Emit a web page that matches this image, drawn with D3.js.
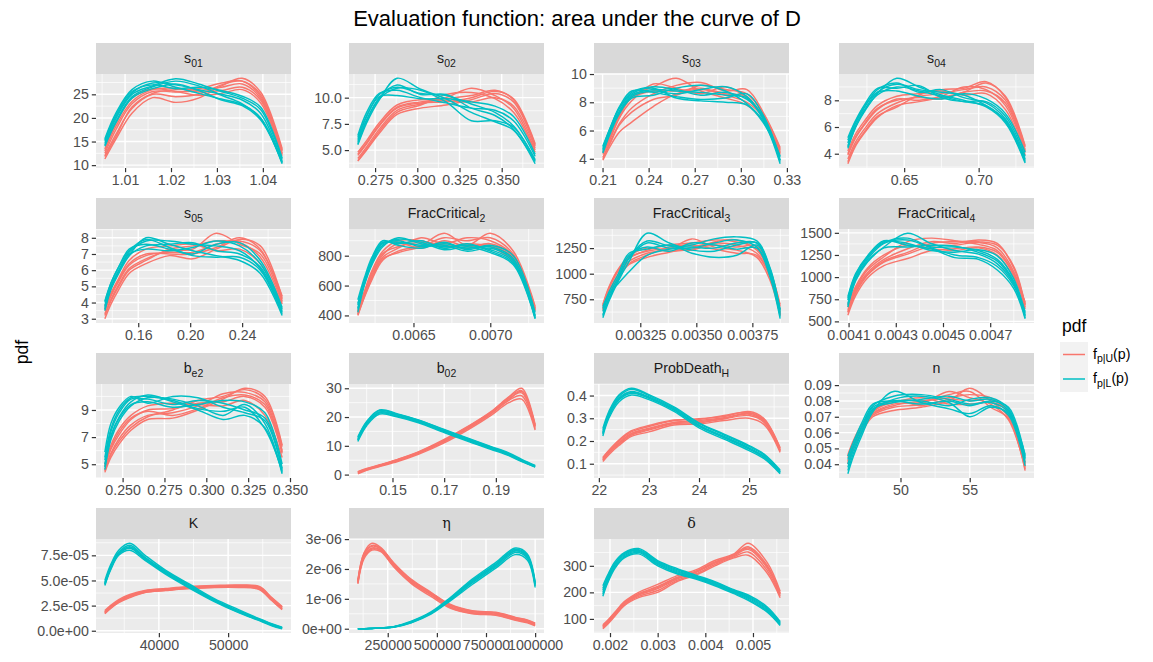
<!DOCTYPE html>
<html>
<head>
<meta charset="utf-8">
<script src="https://cdn.jsdelivr.net/npm/d3@7"></script>
<style>
body { margin: 0; background: #fff; }
</style>
</head>
<body>
<div id="chart"></div>
<script>
// ---- data: one x grid per parameter, curves of f_p|U (U) and f_p|L (L) ----
var s01_x = [1.0056, 1.008, 1.0115, 1.016, 1.021, 1.026, 1.031, 1.0355, 1.0395, 1.0442];
var s01_U = [
  [11.3, 15.5, 21.0, 24.3, 23.3, 24.2, 26.8, 28.4, 25.5, 13.5],
  [12.0, 16.5, 22.0, 25.0, 24.5, 25.0, 27.0, 27.8, 25.0, 13.0],
  [12.5, 17.5, 23.0, 25.6, 25.5, 25.8, 26.5, 27.2, 24.2, 12.6],
  [13.0, 18.2, 23.5, 26.0, 26.3, 25.5, 25.8, 26.5, 23.8, 12.3],
  [13.4, 18.8, 24.2, 26.2, 25.6, 24.8, 25.2, 26.0, 23.2, 12.0],
  [11.8, 16.0, 22.3, 25.2, 26.0, 26.2, 27.4, 27.8, 24.6, 13.2]];
var s01_L = [
  [14.2, 19.2, 24.5, 26.6, 27.8, 26.8, 24.8, 23.0, 20.0, 10.3],
  [15.0, 20.2, 25.3, 27.4, 27.0, 26.0, 25.0, 23.8, 21.0, 10.8],
  [15.6, 21.0, 26.0, 27.8, 26.5, 25.2, 24.0, 22.8, 20.0, 10.5],
  [14.6, 19.8, 25.0, 26.8, 28.3, 27.2, 25.6, 24.2, 21.8, 11.2],
  [15.3, 20.6, 25.6, 27.0, 26.2, 26.5, 25.8, 24.6, 22.3, 11.5],
  [14.0, 19.0, 24.2, 26.2, 27.2, 25.8, 23.8, 22.6, 19.6, 10.6]];
var s01_xt = [1.01, 1.02, 1.03, 1.04];
var s01_yt = [10, 15, 20, 25];

var s02_x = [0.2648, 0.270, 0.2775, 0.288, 0.302, 0.317, 0.332, 0.346, 0.357, 0.3698];
var s02_U = [
  [3.95, 5.0, 6.6, 8.4, 9.0, 9.3, 9.8, 10.4, 9.6, 5.4],
  [4.2, 5.3, 7.0, 8.8, 9.4, 10.0, 10.9, 10.2, 9.0, 5.0],
  [4.5, 5.6, 7.3, 9.0, 9.5, 9.6, 10.0, 10.6, 9.9, 5.6],
  [4.8, 5.9, 7.6, 9.3, 9.8, 9.7, 9.6, 10.0, 9.2, 5.2],
  [4.0, 5.1, 6.8, 8.6, 9.3, 10.3, 10.5, 9.9, 8.6, 4.8],
  [4.6, 5.7, 7.4, 9.1, 9.6, 9.9, 10.2, 10.7, 9.8, 5.5]];
var s02_L = [
  [5.5, 7.6, 9.8, 11.85, 10.8, 9.9, 8.6, 7.7, 6.9, 3.7],
  [6.0, 8.2, 10.3, 11.0, 10.4, 10.2, 9.4, 8.6, 7.3, 4.1],
  [6.4, 8.6, 10.4, 10.7, 10.0, 9.5, 9.0, 8.8, 7.8, 4.4],
  [5.8, 7.9, 9.9, 10.9, 10.7, 9.6, 7.8, 7.8, 7.2, 4.0],
  [6.2, 8.3, 10.1, 10.2, 9.9, 9.9, 9.6, 9.2, 8.2, 4.6],
  [5.6, 7.8, 10.0, 11.2, 10.3, 10.3, 9.0, 8.3, 7.0, 3.9]];
var s02_xt = [0.275, 0.300, 0.325, 0.350];
var s02_yt = [5.0, 7.5, 10.0];

var s03_x = [0.2102, 0.215, 0.221, 0.229, 0.243, 0.258, 0.274, 0.290, 0.304, 0.315, 0.3256];
var s03_U = [
  [3.9, 4.9, 5.9, 6.6, 7.7, 8.6, 8.9, 8.5, 8.0, 6.9, 4.6],
  [4.1, 5.2, 6.5, 7.6, 8.6, 9.2, 9.4, 8.8, 8.9, 7.2, 4.8],
  [4.3, 5.4, 6.9, 8.1, 9.3, 9.0, 8.6, 9.1, 8.3, 7.0, 4.5],
  [4.5, 5.6, 7.1, 8.4, 9.1, 9.7, 8.8, 8.3, 7.8, 6.6, 4.3],
  [4.0, 5.1, 6.4, 7.3, 8.2, 8.5, 9.2, 8.9, 8.6, 7.1, 4.7],
  [4.4, 5.5, 7.0, 8.3, 8.8, 8.8, 9.0, 8.6, 8.4, 6.8, 4.4]];
var s03_L = [
  [4.5, 5.9, 7.3, 8.4, 8.8, 8.6, 8.9, 9.1, 8.4, 6.8, 3.8],
  [4.7, 6.1, 7.6, 8.7, 9.1, 8.9, 8.5, 8.7, 8.2, 6.9, 3.9],
  [4.9, 6.2, 7.7, 8.8, 8.7, 8.4, 8.2, 8.3, 8.6, 7.0, 4.1],
  [4.4, 5.8, 7.2, 8.3, 8.5, 9.0, 9.2, 8.8, 7.9, 6.6, 3.65],
  [4.8, 6.2, 7.6, 8.6, 9.0, 8.3, 8.1, 8.0, 7.8, 6.5, 4.2],
  [4.6, 6.0, 7.4, 8.5, 8.9, 8.8, 8.7, 8.5, 8.3, 6.7, 3.9]];
var s03_xt = [0.21, 0.24, 0.27, 0.30, 0.33];
var s03_yt = [4, 6, 8, 10];

var s04_x = [0.6122, 0.617, 0.623, 0.632, 0.645, 0.660, 0.675, 0.690, 0.705, 0.718, 0.7312];
var s04_U = [
  [3.25, 4.5, 5.5, 6.7, 7.6, 7.9, 8.2, 8.6, 9.3, 8.3, 4.6],
  [3.6, 4.8, 5.8, 7.0, 7.8, 8.3, 8.5, 8.8, 9.0, 8.0, 4.3],
  [3.9, 5.1, 6.1, 7.3, 8.1, 8.0, 8.3, 9.0, 8.8, 7.6, 4.1],
  [4.2, 5.4, 6.4, 7.6, 8.3, 8.5, 8.7, 8.4, 8.5, 7.3, 3.9],
  [3.4, 4.6, 5.6, 6.8, 7.5, 8.4, 8.8, 8.9, 9.4, 8.2, 4.5],
  [4.0, 5.2, 6.2, 7.4, 8.0, 8.2, 8.1, 8.6, 8.7, 7.8, 4.2]];
var s04_L = [
  [4.4, 5.9, 7.1, 8.5, 9.65, 9.0, 8.4, 8.0, 7.5, 6.3, 3.3],
  [4.8, 6.2, 7.4, 8.8, 9.3, 8.6, 8.8, 8.2, 7.8, 6.6, 3.6],
  [5.2, 6.4, 7.6, 8.9, 8.9, 9.1, 8.2, 7.9, 7.9, 6.8, 3.8],
  [4.6, 6.0, 7.2, 8.6, 9.2, 8.8, 8.6, 8.4, 7.6, 6.5, 3.5],
  [5.0, 6.3, 7.5, 8.6, 8.7, 8.3, 8.1, 8.5, 8.1, 7.0, 4.1],
  [4.5, 5.9, 7.2, 8.4, 9.0, 8.7, 8.3, 7.9, 7.6, 6.4, 3.4]];
var s04_xt = [0.65, 0.70];
var s04_yt = [4, 6, 8];

var s05_x = [0.1343, 0.139, 0.145, 0.153, 0.166, 0.184, 0.202, 0.220, 0.238, 0.254, 0.2708];
var s05_U = [
  [3.0, 3.9, 4.8, 5.8, 6.4, 6.9, 6.7, 7.3, 7.9, 7.5, 4.3],
  [3.3, 4.2, 5.1, 6.1, 6.7, 7.2, 7.3, 8.28, 7.6, 7.0, 4.1],
  [3.6, 4.5, 5.4, 6.4, 7.0, 7.0, 7.0, 7.4, 8.0, 7.3, 4.2],
  [3.8, 4.6, 5.5, 6.6, 7.3, 7.5, 7.6, 7.2, 7.3, 6.4, 3.9],
  [3.2, 4.1, 5.0, 6.0, 6.6, 7.3, 7.5, 7.8, 7.7, 6.8, 4.0],
  [3.5, 4.4, 5.3, 6.3, 6.9, 7.1, 7.1, 7.6, 7.8, 7.2, 4.4]];
var s05_L = [
  [3.5, 4.8, 5.8, 6.9, 8.0, 7.6, 7.2, 6.9, 6.6, 5.8, 3.2],
  [3.8, 5.0, 6.0, 7.1, 7.8, 7.8, 7.6, 7.5, 7.2, 6.1, 3.4],
  [4.1, 5.2, 6.2, 7.3, 7.6, 7.3, 7.0, 7.6, 7.7, 6.6, 3.7],
  [3.7, 4.9, 5.9, 7.0, 7.3, 7.2, 7.4, 7.8, 7.5, 6.4, 3.6],
  [4.0, 5.2, 6.2, 7.2, 7.9, 7.4, 6.9, 6.8, 6.8, 6.0, 3.3],
  [3.6, 4.9, 5.9, 6.9, 7.5, 7.6, 7.7, 7.2, 7.0, 6.2, 3.5]];
var s05_xt = [0.16, 0.20, 0.24];
var s05_yt = [3, 4, 5, 6, 7, 8];

var fc2_x = [0.006138, 0.00618, 0.00623, 0.0063, 0.0064, 0.00655, 0.0067, 0.00685, 0.0070, 0.00715, 0.007292];
var fc2_U = [
  [400, 520, 640, 770, 830, 870, 950, 870, 950, 830, 460],
  [410, 535, 660, 790, 850, 920, 880, 920, 900, 800, 445],
  [420, 545, 675, 805, 880, 850, 900, 860, 870, 780, 435],
  [430, 560, 700, 830, 900, 900, 860, 880, 860, 760, 430],
  [405, 525, 650, 780, 820, 860, 920, 900, 920, 810, 450],
  [425, 550, 690, 815, 860, 890, 870, 850, 880, 790, 440]];
var fc2_L = [
  [420, 600, 740, 860, 920, 880, 860, 870, 840, 760, 380],
  [450, 615, 760, 880, 900, 860, 880, 850, 860, 780, 395],
  [480, 630, 775, 890, 880, 900, 850, 880, 830, 750, 385],
  [505, 650, 790, 900, 870, 850, 890, 840, 870, 800, 420],
  [440, 610, 750, 870, 910, 890, 840, 860, 820, 740, 378],
  [470, 625, 770, 885, 890, 870, 870, 830, 850, 770, 400]];
var fc2_xt = [0.0065, 0.0070];
var fc2_yt = [400, 600, 800];

var fc3_x = [0.003083, 0.00311, 0.00315, 0.0032, 0.00328, 0.00338, 0.00348, 0.00358, 0.00368, 0.00377, 0.00383, 0.003874];
var fc3_U = [
  [640, 790, 960, 1090, 1160, 1210, 1260, 1300, 1280, 1200, 980, 620],
  [660, 820, 990, 1120, 1200, 1240, 1340, 1260, 1230, 1160, 930, 600],
  [680, 850, 1020, 1150, 1230, 1280, 1300, 1330, 1310, 1240, 1000, 650],
  [700, 870, 1040, 1170, 1250, 1220, 1240, 1280, 1260, 1270, 1030, 680],
  [650, 800, 970, 1100, 1180, 1260, 1280, 1240, 1200, 1180, 960, 590],
  [690, 860, 1030, 1160, 1220, 1250, 1230, 1310, 1330, 1230, 1010, 700]];
var fc3_L = [
  [570, 730, 920, 1120, 1395, 1300, 1230, 1220, 1280, 1300, 1040, 620],
  [600, 760, 940, 1150, 1300, 1250, 1280, 1340, 1360, 1320, 1050, 640],
  [630, 790, 960, 1180, 1260, 1220, 1300, 1280, 1240, 1250, 990, 600],
  [660, 820, 990, 1200, 1240, 1280, 1200, 1160, 1180, 1280, 1000, 580],
  [680, 800, 900, 1020, 1180, 1240, 1250, 1300, 1330, 1260, 960, 560],
  [590, 750, 930, 1160, 1320, 1270, 1260, 1250, 1300, 1300, 1020, 650]];
var fc3_xt = [0.00325, 0.00350, 0.00375];
var fc3_yt = [750, 1000, 1250];

var fc4_x = [0.004097, 0.00413, 0.00418, 0.00425, 0.00435, 0.00445, 0.00455, 0.00465, 0.00473, 0.0048, 0.004848];
var fc4_U = [
  [570, 790, 990, 1130, 1210, 1300, 1320, 1340, 1280, 1020, 640],
  [600, 820, 1020, 1170, 1260, 1350, 1360, 1390, 1330, 1060, 660],
  [630, 850, 1050, 1200, 1320, 1400, 1380, 1420, 1380, 1100, 690],
  [660, 870, 1080, 1230, 1400, 1440, 1410, 1370, 1300, 1040, 700],
  [690, 895, 1100, 1250, 1360, 1320, 1300, 1330, 1250, 1000, 720],
  [610, 830, 1030, 1180, 1280, 1380, 1400, 1400, 1360, 1120, 680]];
var fc4_L = [
  [660, 960, 1170, 1340, 1495, 1380, 1300, 1260, 1150, 920, 540],
  [700, 990, 1200, 1380, 1420, 1340, 1340, 1300, 1200, 950, 560],
  [740, 1010, 1220, 1400, 1380, 1300, 1280, 1310, 1240, 980, 590],
  [780, 1040, 1240, 1410, 1360, 1320, 1220, 1200, 1080, 870, 530],
  [680, 970, 1180, 1330, 1340, 1360, 1350, 1280, 1180, 940, 610],
  [760, 1030, 1230, 1390, 1440, 1330, 1250, 1220, 1120, 900, 570]];
var fc4_xt = [0.0041, 0.0043, 0.0045, 0.0047];
var fc4_yt = [500, 750, 1000, 1250, 1500];

var be2_x = [0.2394, 0.243, 0.248, 0.255, 0.265, 0.280, 0.295, 0.310, 0.323, 0.335, 0.3453];
var be2_U = [
  [4.4, 5.5, 6.5, 7.5, 8.3, 8.4, 9.0, 9.8, 10.6, 10.0, 6.4],
  [4.6, 5.8, 6.9, 7.9, 8.6, 8.8, 9.3, 10.2, 10.3, 9.6, 6.0],
  [4.8, 6.1, 7.2, 8.3, 9.0, 9.1, 9.5, 9.6, 10.0, 9.2, 5.8],
  [5.0, 6.4, 7.6, 8.6, 9.3, 9.5, 9.4, 9.3, 9.7, 8.6, 5.5],
  [4.5, 5.7, 6.7, 7.7, 8.5, 9.0, 9.7, 10.0, 10.5, 9.8, 6.3],
  [4.9, 6.2, 7.4, 8.4, 8.9, 8.6, 9.1, 9.9, 10.1, 9.4, 5.9]];
var be2_L = [
  [4.6, 6.8, 8.2, 9.3, 9.9, 9.8, 9.3, 8.6, 9.4, 8.0, 4.4],
  [5.0, 7.1, 8.5, 9.6, 10.1, 9.6, 9.0, 8.3, 8.6, 7.7, 4.3],
  [5.3, 7.4, 8.8, 9.8, 9.8, 9.4, 9.7, 9.5, 9.0, 8.4, 4.7],
  [5.9, 8.0, 9.2, 10.0, 9.5, 10.0, 9.9, 9.2, 8.8, 8.2, 4.6],
  [4.8, 7.0, 8.4, 9.4, 9.6, 9.2, 9.4, 9.7, 9.6, 8.8, 5.0],
  [5.5, 7.6, 9.0, 9.9, 10.0, 9.7, 9.1, 8.9, 9.2, 7.6, 4.5]];
var be2_xt = [0.250, 0.275, 0.300, 0.325, 0.350];
var be2_yt = [5, 7, 9];

var b02_x = [0.1366, 0.140, 0.145, 0.152, 0.160, 0.170, 0.180, 0.188, 0.195, 0.200, 0.2052];
var b02_U = [
  [0.3, 1.5, 2.8, 4.5, 7.0, 11.0, 16.0, 20.5, 25.0, 26.2, 15.5],
  [0.6, 1.7, 3.0, 4.8, 7.4, 11.4, 16.4, 21.0, 25.8, 27.4, 16.0],
  [0.8, 1.9, 3.2, 5.0, 7.6, 11.8, 16.8, 21.4, 26.4, 28.4, 16.6],
  [1.0, 2.1, 3.4, 5.3, 7.9, 12.2, 17.2, 21.8, 27.0, 30.0, 17.4],
  [0.7, 1.8, 3.1, 4.9, 7.5, 11.6, 16.6, 21.2, 26.0, 28.9, 16.9],
  [0.9, 2.0, 3.3, 5.2, 7.8, 12.0, 17.0, 21.6, 26.8, 29.2, 17.0]];
var b02_L = [
  [11.5, 17.0, 21.0, 20.0, 18.0, 14.6, 11.3, 8.8, 6.6, 4.5, 2.6],
  [11.9, 17.4, 21.4, 20.3, 18.3, 14.9, 11.6, 9.1, 6.8, 4.7, 2.7],
  [12.3, 17.8, 21.8, 20.6, 18.6, 15.2, 11.9, 9.3, 7.0, 4.9, 2.9],
  [12.8, 18.2, 22.3, 20.9, 18.9, 15.5, 12.2, 9.6, 7.3, 5.1, 3.0],
  [13.1, 18.5, 22.5, 21.1, 19.0, 15.7, 12.4, 9.8, 7.5, 5.3, 3.2],
  [12.0, 17.6, 21.7, 20.8, 18.5, 15.0, 12.0, 9.4, 7.1, 4.8, 2.8]];
var b02_xt = [0.15, 0.17, 0.19];
var b02_yt = [0, 10, 20, 30];

var pdh_x = [22.08, 22.2, 22.4, 22.65, 23.0, 23.5, 24.0, 24.5, 25.0, 25.3, 25.62];
var pdh_U = [
  [0.110, 0.140, 0.180, 0.220, 0.240, 0.270, 0.275, 0.290, 0.300, 0.272, 0.150],
  [0.115, 0.146, 0.186, 0.226, 0.248, 0.276, 0.280, 0.297, 0.312, 0.282, 0.156],
  [0.120, 0.151, 0.193, 0.233, 0.256, 0.282, 0.290, 0.302, 0.322, 0.290, 0.161],
  [0.125, 0.156, 0.200, 0.240, 0.264, 0.289, 0.298, 0.308, 0.330, 0.298, 0.167],
  [0.118, 0.149, 0.190, 0.230, 0.252, 0.280, 0.285, 0.300, 0.318, 0.286, 0.158],
  [0.128, 0.159, 0.204, 0.245, 0.268, 0.292, 0.295, 0.312, 0.326, 0.294, 0.170]];
var pdh_L = [
  [0.222, 0.300, 0.372, 0.402, 0.382, 0.330, 0.258, 0.208, 0.158, 0.122, 0.056],
  [0.230, 0.308, 0.380, 0.410, 0.388, 0.336, 0.264, 0.214, 0.164, 0.127, 0.060],
  [0.238, 0.315, 0.388, 0.418, 0.394, 0.341, 0.270, 0.220, 0.170, 0.132, 0.064],
  [0.246, 0.322, 0.396, 0.428, 0.400, 0.346, 0.276, 0.226, 0.176, 0.138, 0.068],
  [0.255, 0.330, 0.402, 0.432, 0.404, 0.350, 0.280, 0.230, 0.180, 0.142, 0.072],
  [0.234, 0.312, 0.385, 0.414, 0.391, 0.338, 0.267, 0.217, 0.167, 0.130, 0.062]];
var pdh_xt = [22, 23, 24, 25];
var pdh_yt = [0.1, 0.2, 0.3, 0.4];

var n_x = [46.2, 46.6, 47.2, 48.0, 49.5, 51.5, 53.5, 55.0, 56.5, 57.8, 59.0];
var n_U = [
  [0.040, 0.050, 0.060, 0.070, 0.074, 0.076, 0.080, 0.088, 0.080, 0.070, 0.036],
  [0.042, 0.051, 0.062, 0.071, 0.076, 0.078, 0.086, 0.082, 0.078, 0.068, 0.038],
  [0.044, 0.053, 0.063, 0.072, 0.077, 0.080, 0.082, 0.084, 0.082, 0.072, 0.039],
  [0.046, 0.055, 0.065, 0.074, 0.079, 0.082, 0.078, 0.078, 0.079, 0.074, 0.040],
  [0.041, 0.050, 0.061, 0.072, 0.078, 0.079, 0.084, 0.086, 0.076, 0.069, 0.037],
  [0.045, 0.054, 0.064, 0.073, 0.080, 0.077, 0.081, 0.080, 0.081, 0.073, 0.041]];
var n_L = [
  [0.034, 0.045, 0.058, 0.073, 0.086, 0.079, 0.075, 0.072, 0.077, 0.071, 0.039],
  [0.036, 0.047, 0.060, 0.074, 0.081, 0.083, 0.079, 0.070, 0.076, 0.072, 0.041],
  [0.038, 0.049, 0.061, 0.075, 0.079, 0.081, 0.083, 0.080, 0.081, 0.074, 0.043],
  [0.040, 0.051, 0.063, 0.076, 0.080, 0.080, 0.077, 0.081, 0.082, 0.075, 0.044],
  [0.043, 0.052, 0.064, 0.077, 0.083, 0.084, 0.081, 0.078, 0.079, 0.073, 0.046],
  [0.045, 0.054, 0.066, 0.078, 0.080, 0.078, 0.080, 0.077, 0.080, 0.076, 0.045]];
var n_xt = [50, 55];
var n_yt = [0.04, 0.05, 0.06, 0.07, 0.08, 0.09];

var k_x = [32200, 33000, 34200, 35800, 38000, 41000, 44500, 48000, 51500, 54500, 56300, 57800];
var k_U = [
  [1.70e-5, 2.20e-5, 2.80e-5, 3.30e-5, 3.80e-5, 4.00e-5, 4.20e-5, 4.30e-5, 4.30e-5, 4.10e-5, 3.00e-5, 2.10e-5],
  [1.80e-5, 2.30e-5, 2.90e-5, 3.40e-5, 3.85e-5, 4.05e-5, 4.25e-5, 4.35e-5, 4.40e-5, 4.20e-5, 3.10e-5, 2.20e-5],
  [1.85e-5, 2.35e-5, 2.95e-5, 3.45e-5, 3.90e-5, 4.10e-5, 4.30e-5, 4.40e-5, 4.45e-5, 4.30e-5, 3.20e-5, 2.30e-5],
  [1.90e-5, 2.40e-5, 3.00e-5, 3.50e-5, 3.95e-5, 4.15e-5, 4.35e-5, 4.45e-5, 4.50e-5, 4.35e-5, 3.25e-5, 2.35e-5],
  [2.00e-5, 2.50e-5, 3.10e-5, 3.60e-5, 4.00e-5, 4.20e-5, 4.40e-5, 4.50e-5, 4.55e-5, 4.40e-5, 3.30e-5, 2.40e-5],
  [1.75e-5, 2.25e-5, 2.85e-5, 3.35e-5, 3.82e-5, 4.02e-5, 4.22e-5, 4.32e-5, 4.35e-5, 4.15e-5, 3.05e-5, 2.15e-5]];
var k_L = [
  [4.50e-5, 6.00e-5, 7.50e-5, 8.00e-5, 7.00e-5, 5.60e-5, 4.20e-5, 2.90e-5, 1.80e-5, 1.00e-5, 0.50e-5, 0.20e-5],
  [4.60e-5, 6.10e-5, 7.60e-5, 8.20e-5, 7.10e-5, 5.70e-5, 4.30e-5, 3.00e-5, 1.85e-5, 1.05e-5, 0.55e-5, 0.24e-5],
  [4.70e-5, 6.20e-5, 7.70e-5, 8.35e-5, 7.20e-5, 5.80e-5, 4.40e-5, 3.05e-5, 1.90e-5, 1.10e-5, 0.60e-5, 0.27e-5],
  [4.80e-5, 6.30e-5, 7.80e-5, 8.50e-5, 7.30e-5, 5.90e-5, 4.50e-5, 3.10e-5, 2.00e-5, 1.15e-5, 0.65e-5, 0.30e-5],
  [5.00e-5, 6.50e-5, 8.00e-5, 8.70e-5, 7.50e-5, 6.00e-5, 4.60e-5, 3.20e-5, 2.10e-5, 1.20e-5, 0.70e-5, 0.35e-5],
  [4.65e-5, 6.15e-5, 7.65e-5, 8.25e-5, 7.15e-5, 5.75e-5, 4.35e-5, 3.00e-5, 1.90e-5, 1.08e-5, 0.58e-5, 0.25e-5]];
var k_xt = [40000, 50000];
var k_yt = [0, 2.5e-5, 5.0e-5, 7.5e-5];

var eta_x = [98000, 130000, 170000, 215000, 280000, 370000, 470000, 570000, 680000, 800000, 900000, 960000, 1000000];
var eta_U = [
  [1.50e-6, 2.35e-6, 2.63e-6, 2.58e-6, 2.07e-6, 1.51e-6, 1.08e-6, 0.68e-6, 0.50e-6, 0.45e-6, 0.28e-6, 0.20e-6, 0.10e-6],
  [1.55e-6, 2.42e-6, 2.70e-6, 2.63e-6, 2.12e-6, 1.56e-6, 1.13e-6, 0.73e-6, 0.54e-6, 0.49e-6, 0.32e-6, 0.23e-6, 0.13e-6],
  [1.58e-6, 2.48e-6, 2.76e-6, 2.67e-6, 2.16e-6, 1.60e-6, 1.17e-6, 0.77e-6, 0.57e-6, 0.52e-6, 0.35e-6, 0.26e-6, 0.16e-6],
  [1.62e-6, 2.55e-6, 2.86e-6, 2.72e-6, 2.21e-6, 1.65e-6, 1.22e-6, 0.81e-6, 0.60e-6, 0.55e-6, 0.38e-6, 0.29e-6, 0.19e-6],
  [1.53e-6, 2.40e-6, 2.67e-6, 2.61e-6, 2.10e-6, 1.54e-6, 1.15e-6, 0.71e-6, 0.52e-6, 0.47e-6, 0.30e-6, 0.22e-6, 0.12e-6],
  [1.60e-6, 2.52e-6, 2.79e-6, 2.69e-6, 2.19e-6, 1.63e-6, 1.20e-6, 0.79e-6, 0.59e-6, 0.54e-6, 0.37e-6, 0.28e-6, 0.18e-6]];
var eta_L = [
  [0, 0, 0.010e-6, 0.020e-6, 0.050e-6, 0.20e-6, 0.49e-6, 0.94e-6, 1.48e-6, 2.03e-6, 2.48e-6, 2.30e-6, 1.38e-6],
  [0, 0, 0.010e-6, 0.020e-6, 0.055e-6, 0.21e-6, 0.51e-6, 0.97e-6, 1.53e-6, 2.08e-6, 2.55e-6, 2.36e-6, 1.43e-6],
  [0, 0, 0.010e-6, 0.025e-6, 0.060e-6, 0.22e-6, 0.52e-6, 0.99e-6, 1.57e-6, 2.12e-6, 2.60e-6, 2.40e-6, 1.47e-6],
  [0, 0, 0.010e-6, 0.025e-6, 0.065e-6, 0.24e-6, 0.54e-6, 1.02e-6, 1.62e-6, 2.17e-6, 2.66e-6, 2.46e-6, 1.52e-6],
  [0, 0, 0.015e-6, 0.030e-6, 0.070e-6, 0.25e-6, 0.56e-6, 1.05e-6, 1.66e-6, 2.22e-6, 2.70e-6, 2.50e-6, 1.56e-6],
  [0, 0, 0.010e-6, 0.020e-6, 0.060e-6, 0.23e-6, 0.53e-6, 1.00e-6, 1.59e-6, 2.14e-6, 2.62e-6, 2.43e-6, 1.49e-6]];
var eta_xt = [250000, 500000, 750000, 1000000];
var eta_yt = [0, 1e-6, 2e-6, 3e-6];

var dlt_x = [0.00185, 0.00195, 0.0021, 0.0023, 0.0026, 0.0030, 0.0034, 0.0038, 0.0042, 0.0046, 0.0049, 0.0053, 0.00557];
var dlt_U = [
  [63, 80, 110, 150, 180, 200, 240, 265, 300, 330, 340, 272, 180],
  [67, 84, 114, 154, 185, 207, 245, 270, 305, 334, 352, 282, 186],
  [70, 88, 118, 158, 190, 214, 250, 275, 310, 338, 362, 292, 192],
  [74, 92, 122, 162, 195, 222, 256, 280, 315, 342, 372, 302, 198],
  [78, 95, 125, 165, 200, 230, 262, 285, 320, 345, 385, 312, 204],
  [72, 90, 120, 160, 192, 218, 253, 277, 312, 340, 367, 296, 195]];
var dlt_L = [
  [185, 235, 290, 330, 345, 300, 270, 250, 225, 195, 170, 125, 75],
  [193, 241, 295, 334, 350, 305, 274, 253, 228, 198, 174, 129, 78],
  [200, 247, 300, 338, 354, 309, 278, 256, 231, 201, 178, 133, 81],
  [208, 253, 305, 342, 358, 313, 282, 259, 234, 204, 182, 137, 84],
  [225, 265, 315, 350, 365, 320, 290, 265, 240, 210, 190, 145, 90],
  [215, 258, 310, 346, 361, 316, 286, 262, 237, 207, 186, 141, 87]];
var dlt_xt = [0.002, 0.003, 0.004, 0.005];
var dlt_yt = [100, 200, 300];

var groups = ['f_p|U(p)', 'f_p|L(p)'];

// exponent labels like R: 7.5e-05
function expFmt(spec) {
  return function(v) { return d3.format(spec)(v).replace(/e([+-])(\d)$/, 'e$10$2'); };
}

var facets = [
  {name: 's', sub: '01', x: s01_x, U: s01_U, L: s01_L, xt: s01_xt, yt: s01_yt, xf: d3.format('.2f'), yf: d3.format('d')},
  {name: 's', sub: '02', x: s02_x, U: s02_U, L: s02_L, xt: s02_xt, yt: s02_yt, xf: d3.format('.3f'), yf: d3.format('.1f')},
  {name: 's', sub: '03', x: s03_x, U: s03_U, L: s03_L, xt: s03_xt, yt: s03_yt, xf: d3.format('.2f'), yf: d3.format('d')},
  {name: 's', sub: '04', x: s04_x, U: s04_U, L: s04_L, xt: s04_xt, yt: s04_yt, xf: d3.format('.2f'), yf: d3.format('d')},
  {name: 's', sub: '05', x: s05_x, U: s05_U, L: s05_L, xt: s05_xt, yt: s05_yt, xf: d3.format('.2f'), yf: d3.format('d')},
  {name: 'FracCritical', sub: '2', x: fc2_x, U: fc2_U, L: fc2_L, xt: fc2_xt, yt: fc2_yt, xf: d3.format('.4f'), yf: d3.format('d')},
  {name: 'FracCritical', sub: '3', x: fc3_x, U: fc3_U, L: fc3_L, xt: fc3_xt, yt: fc3_yt, xf: d3.format('.5f'), yf: d3.format('d')},
  {name: 'FracCritical', sub: '4', x: fc4_x, U: fc4_U, L: fc4_L, xt: fc4_xt, yt: fc4_yt, xf: d3.format('.4f'), yf: d3.format('d')},
  {name: 'b', sub: 'e2', x: be2_x, U: be2_U, L: be2_L, xt: be2_xt, yt: be2_yt, xf: d3.format('.3f'), yf: d3.format('d')},
  {name: 'b', sub: '02', x: b02_x, U: b02_U, L: b02_L, xt: b02_xt, yt: b02_yt, xf: d3.format('.2f'), yf: d3.format('d')},
  {name: 'ProbDeath', sub: 'H', x: pdh_x, U: pdh_U, L: pdh_L, xt: pdh_xt, yt: pdh_yt, xf: d3.format('d'), yf: d3.format('.1f')},
  {name: 'n', sub: '', x: n_x, U: n_U, L: n_L, xt: n_xt, yt: n_yt, xf: d3.format('d'), yf: d3.format('.2f')},
  {name: 'K', sub: '', x: k_x, U: k_U, L: k_L, xt: k_xt, yt: k_yt, xf: d3.format('d'), yf: expFmt('.1e')},
  {name: 'η', sub: '', greek: true, x: eta_x, U: eta_U, L: eta_L, xt: eta_xt, yt: eta_yt, xf: d3.format('d'), yf: expFmt('.0e')},
  {name: 'δ', sub: '', greek: true, x: dlt_x, U: dlt_U, L: dlt_L, xt: dlt_xt, yt: dlt_yt, xf: d3.format('.3f'), yf: d3.format('d')}
];

// ---- layout ----
var W = 1153, H = 662;
var colLeft = [96, 349, 594, 839];
var rowTop = [43, 198, 353, 508];
var pw = 195, stripH = 31, ph = 94;
var red = '#F8766D', teal = '#00BFC4';
var fs = 14.2;
var sans = '"Liberation Sans", Arial, Helvetica, sans-serif';

var svg = d3.select('#chart').append('svg')
  .attr('width', W).attr('height', H)
  .style('font-family', sans);

svg.append('rect').attr('width', W).attr('height', H).attr('fill', '#fff');

// minor breaks the way ggplot does: midpoints, one step past each end
function minorBreaks(ticks, dom) {
  var step = ticks[1] - ticks[0];
  var b = [ticks[0] - step].concat(ticks, [ticks[ticks.length - 1] + step]);
  var out = [];
  for (var i = 0; i < b.length - 1; i++) {
    var m = (b[i] + b[i + 1]) / 2;
    if (m >= dom[0] && m <= dom[1]) out.push(m);
  }
  return out;
}

facets.forEach(function(f, i) {
  var c = i % 4, r = Math.floor(i / 4);
  var left = colLeft[c], top = rowTop[r] + stripH;

  var xe = d3.extent(f.x);
  var ye = d3.extent(d3.merge(f.U.concat(f.L)));
  var dx = (xe[1] - xe[0]) * 0.05, dy = (ye[1] - ye[0]) * 0.05;
  var xdom = [xe[0] - dx, xe[1] + dx], ydom = [ye[0] - dy, ye[1] + dy];
  var x = d3.scaleLinear().domain(xdom).range([0, pw]);
  var y = d3.scaleLinear().domain(ydom).range([ph, 0]);

  // strip
  svg.append('rect')
    .attr('x', left).attr('y', rowTop[r])
    .attr('width', pw).attr('height', stripH)
    .attr('fill', '#D9D9D9');
  var st = svg.append('text')
    .attr('x', left + pw / 2).attr('y', rowTop[r] + stripH / 2 + 4.5)
    .attr('text-anchor', 'middle')
    .attr('fill', '#1A1A1A')
    .style('font-size', fs + 'px');
  if (f.greek) st.style('font-family', '"DejaVu Serif", "Liberation Serif", serif');
  st.append('tspan').text(f.name);
  if (f.sub) {
    st.append('tspan').attr('dy', 3.5).style('font-size', '10.5px').text(f.sub);
  }

  var g = svg.append('g').attr('transform', 'translate(' + left + ',' + top + ')');
  g.append('rect').attr('width', pw).attr('height', ph).attr('fill', '#EBEBEB');

  // grid
  minorBreaks(f.xt, xdom).forEach(function(v) {
    g.append('line').attr('x1', x(v)).attr('x2', x(v)).attr('y1', 0).attr('y2', ph)
      .attr('stroke', '#fff').attr('stroke-width', 0.7);
  });
  minorBreaks(f.yt, ydom).forEach(function(v) {
    g.append('line').attr('y1', y(v)).attr('y2', y(v)).attr('x1', 0).attr('x2', pw)
      .attr('stroke', '#fff').attr('stroke-width', 0.7);
  });
  f.xt.forEach(function(v) {
    g.append('line').attr('x1', x(v)).attr('x2', x(v)).attr('y1', 0).attr('y2', ph)
      .attr('stroke', '#fff').attr('stroke-width', 1.4);
  });
  f.yt.forEach(function(v) {
    g.append('line').attr('y1', y(v)).attr('y2', y(v)).attr('x1', 0).attr('x2', pw)
      .attr('stroke', '#fff').attr('stroke-width', 1.4);
  });

  // curves
  var line = d3.line()
    .x(function(d, j) { return x(f.x[j]); })
    .y(function(d) { return y(d); })
    .curve(d3.curveCatmullRom.alpha(0.5));
  var clipId = 'clip' + i;
  g.append('clipPath').attr('id', clipId)
    .append('rect').attr('width', pw).attr('height', ph);
  var cg = g.append('g').attr('clip-path', 'url(#' + clipId + ')');
  f.U.forEach(function(cv) {
    cg.append('path').attr('d', line(cv)).attr('fill', 'none')
      .attr('stroke', red).attr('stroke-width', 1.45);
  });
  f.L.forEach(function(cv) {
    cg.append('path').attr('d', line(cv)).attr('fill', 'none')
      .attr('stroke', teal).attr('stroke-width', 1.45);
  });

  // axes
  var ax = g.append('g').attr('transform', 'translate(0,' + ph + ')')
    .call(d3.axisBottom(x).tickValues(f.xt).tickFormat(f.xf).tickSize(4.2).tickPadding(2.5));
  var ay = g.append('g')
    .call(d3.axisLeft(y).tickValues(f.yt).tickFormat(f.yf).tickSize(4.2).tickPadding(3));
  [ax, ay].forEach(function(a) {
    a.select('.domain').remove();
    a.selectAll('line').attr('stroke', '#333333').attr('stroke-width', 1.2);
    a.selectAll('text').attr('fill', '#4D4D4D').style('font-size', fs + 'px')
      .style('font-family', sans);
  });
});

// title
svg.append('text')
  .attr('x', 577).attr('y', 26)
  .attr('text-anchor', 'middle')
  .style('font-size', '22px')
  .attr('fill', '#000')
  .text('Evaluation function: area under the curve of D');

// y axis title
svg.append('text')
  .attr('transform', 'translate(28,352) rotate(-90)')
  .attr('text-anchor', 'middle')
  .style('font-size', '17.5px')
  .attr('fill', '#000')
  .text('pdf');

// legend
var lg = svg.append('g').attr('transform', 'translate(1060,0)');
lg.append('text').attr('x', 2).attr('y', 332)
  .style('font-size', '17.5px').attr('fill', '#000').text('pdf');
lg.append('rect').attr('x', 0).attr('y', 342).attr('width', 28).attr('height', 50)
  .attr('fill', '#F2F2F2');
[red, teal].forEach(function(col, k) {
  var cy = 354.5 + k * 24.5;
  lg.append('line').attr('x1', 3).attr('x2', 25).attr('y1', cy).attr('y2', cy)
    .attr('stroke', col).attr('stroke-width', 1.5);
  var parts = groups[k].match(/^(f)_(\S+)(\(p\))$/);
  var t = lg.append('text').attr('x', 33).attr('y', cy + 4)
    .style('font-size', fs + 'px').attr('fill', '#000');
  t.append('tspan').text(parts[1]);
  t.append('tspan').attr('dy', 3.5).style('font-size', '10.5px').text(parts[2]);
  t.append('tspan').attr('dy', -3.5).text(parts[3]);
});
</script>
</body>
</html>
